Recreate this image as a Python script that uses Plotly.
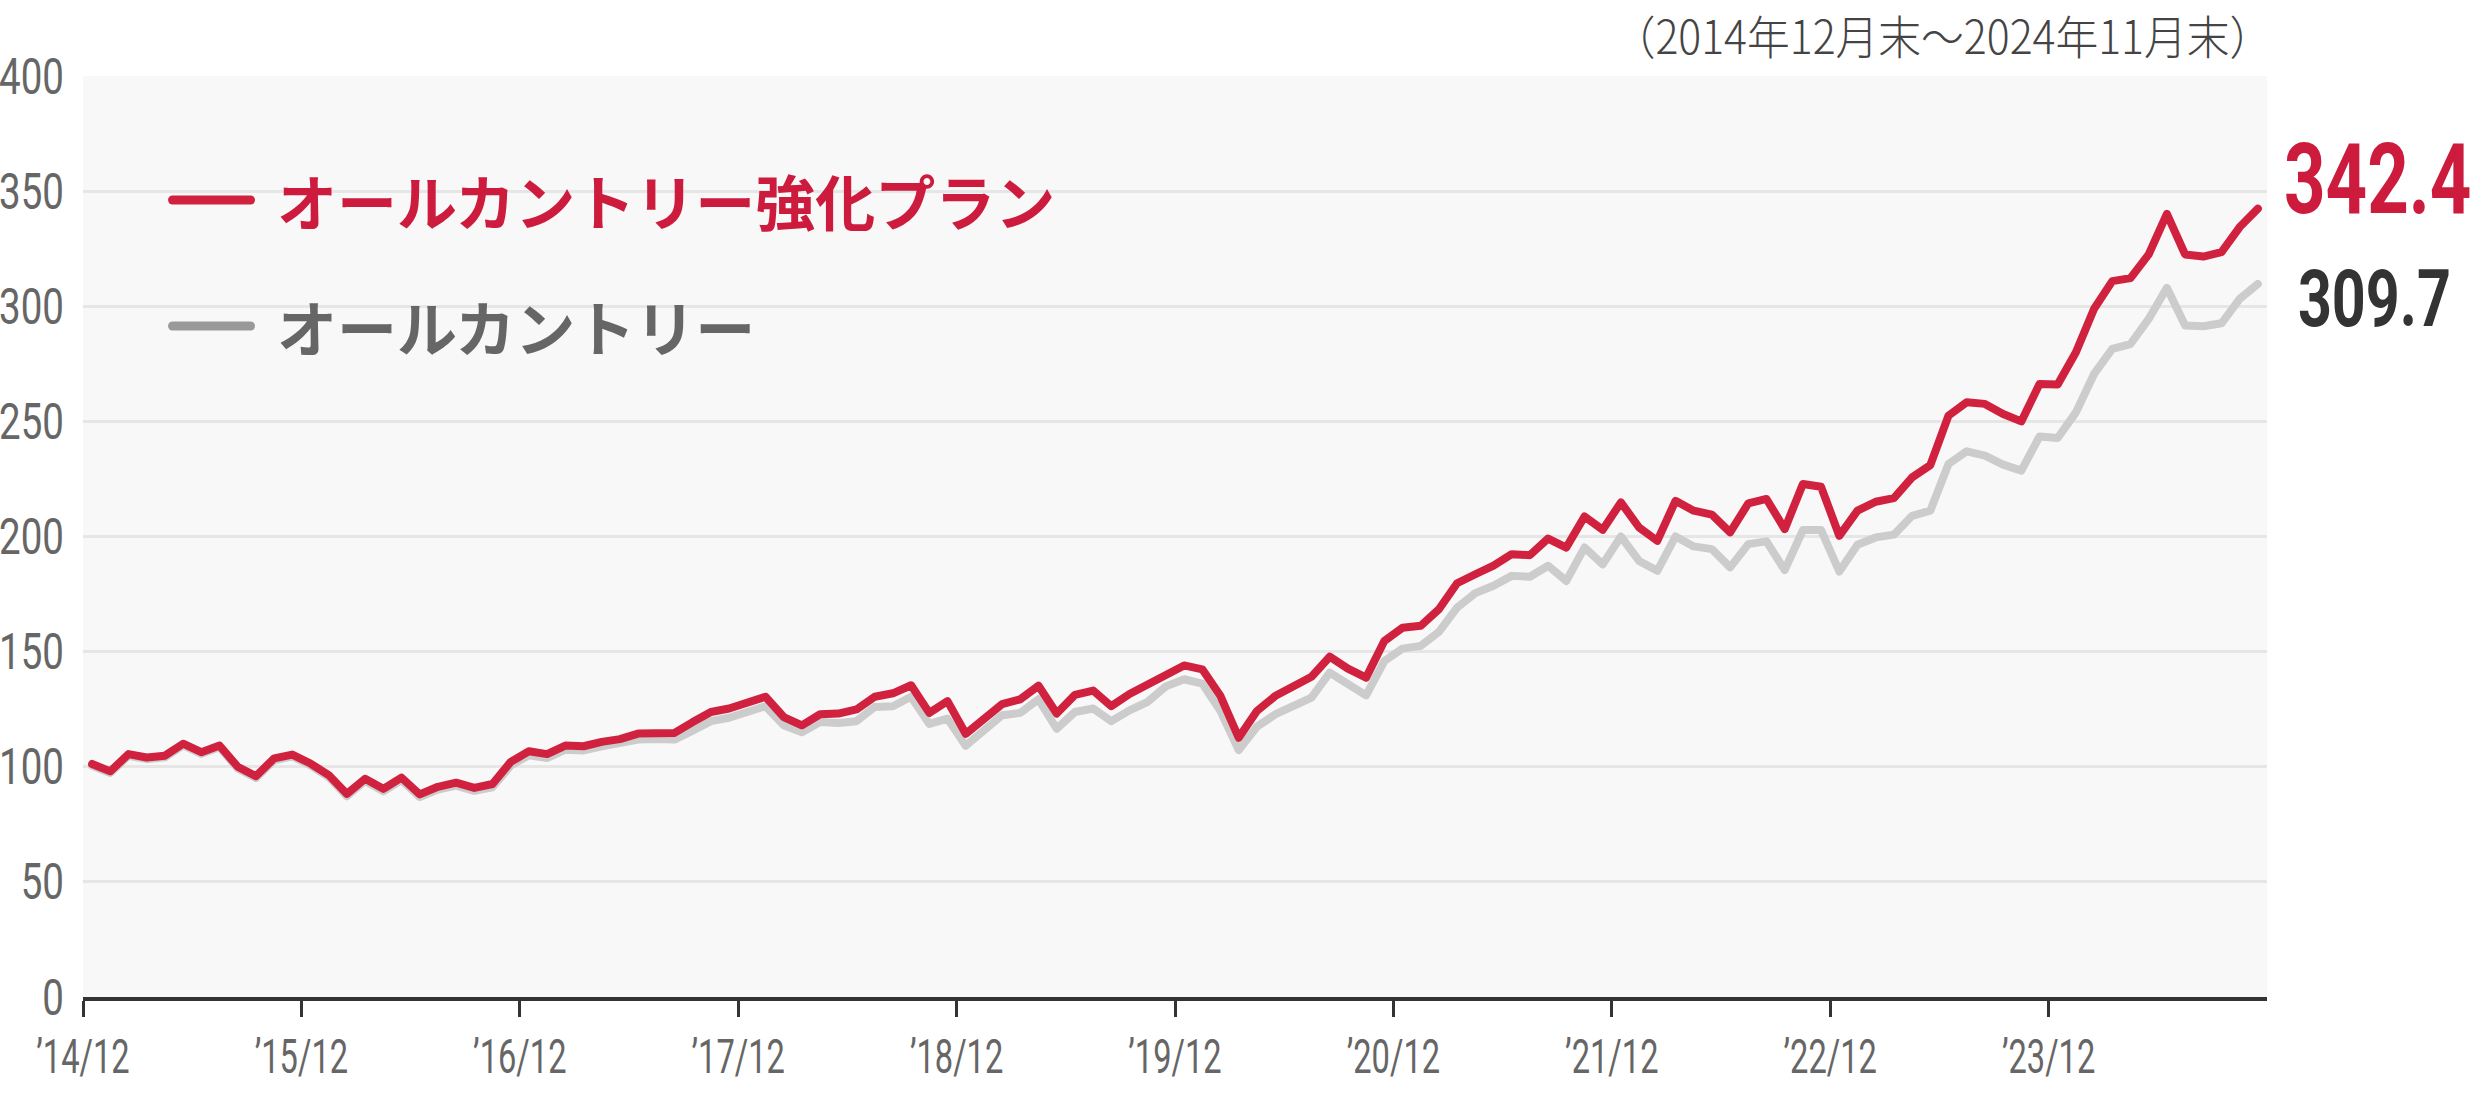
import plotly.graph_objects as go

# Monthly index, Dec 2014 (=0) .. Nov 2024 (=119)
months = list(range(120))

plan_values = [
    101.2, 98.0, 105.5, 104.0, 104.8, 110.0, 106.3, 109.2, 100.0, 95.9,
    103.6, 105.3, 101.4, 96.4, 88.2, 94.8, 90.4, 95.3, 88.0, 91.3,
    93.1, 90.8, 92.5, 102.1, 106.7, 105.5, 109.2, 108.9, 110.8, 112.0,
    114.4, 114.7, 114.7, 119.4, 123.8, 125.3, 127.5, 130.4, 121.6, 118.0,
    122.8, 123.1, 124.9, 130.4, 131.9, 135.4, 123.4, 128.5, 114.3, 121.2,
    127.2, 129.3, 135.2, 123.1, 131.2, 133.1, 126.3, 131.6, 135.6, 140.5,
    144.0, 142.3, 130.7, 112.6, 124.2, 130.7, 135.1, 139.1, 147.8, 142.6,
    138.7, 154.6, 160.4, 161.2, 168.4, 179.7, 183.6, 187.3, 192.3, 191.9,
    199.1, 195.2, 208.7, 202.9, 214.8, 203.9, 198.1, 215.5, 211.2, 209.5,
    201.8, 214.4, 216.3, 203.2, 222.8, 221.6, 200.3, 211.2, 215.1, 216.7,
    225.7, 231.0, 252.5, 258.3, 257.6, 253.2, 250.0, 266.2, 266.0, 280.0,
    298.9, 310.9, 312.2, 322.5, 340.1, 322.5, 321.6, 323.5, 334.4, 342.4,
]

acwi_values = [
    100.4, 97.3, 104.8, 103.3, 104.1, 109.3, 105.6, 108.5, 99.3, 95.1,
    102.8, 104.5, 100.6, 95.5, 87.2, 93.8, 89.3, 94.2, 86.8, 90.1,
    91.8, 89.5, 91.1, 100.5, 105.0, 103.8, 107.4, 107.1, 108.9, 110.0,
    111.8, 112.0, 111.8, 115.7, 119.8, 121.3, 123.4, 126.3, 118.0, 115.0,
    119.4, 119.0, 119.8, 126.0, 126.3, 130.4, 118.6, 120.9, 109.1, 115.7,
    122.4, 123.4, 129.3, 116.5, 123.8, 125.3, 119.8, 124.5, 128.2, 134.9,
    138.0, 136.1, 124.2, 107.2, 117.4, 122.7, 126.4, 130.0, 140.9, 135.8,
    131.0, 145.9, 151.3, 152.5, 158.6, 169.1, 175.4, 178.6, 182.9, 182.5,
    187.3, 180.7, 195.2, 187.9, 200.0, 189.4, 185.1, 200.0, 195.7, 194.5,
    186.6, 196.7, 197.9, 185.4, 202.8, 202.8, 184.8, 196.4, 199.6, 200.8,
    209.0, 211.2, 231.5, 237.0, 235.1, 231.2, 228.6, 243.4, 242.8, 253.9,
    270.6, 281.5, 283.6, 294.5, 308.0, 291.6, 291.3, 292.6, 303.2, 309.7,
]

tick_labels = ["’14/12", "’15/12", "’16/12", "’17/12", "’18/12",
               "’19/12", "’20/12", "’21/12", "’22/12", "’23/12"]
y_ticks = [0, 50, 100, 150, 200, 250, 300, 350, 400]

name_plan = "オールカントリー強化プラン"
name_acwi = "オールカントリー"
period_note = "（2014年12月末～2024年11月末）"

RED = "#d0223f"
RED_TEXT = "#cc1b3d"
GRAY_LINE = "#cccccc"
GRAY_LEGEND = "#999999"
NUM_FONT = "Roboto, sans-serif"
JP_FONT = "Noto Sans CJK JP, Noto Sans, sans-serif"

tick_positions = [i * 12 - 0.5 for i in range(len(tick_labels))]

fig = go.Figure()
fig.add_trace(go.Scatter(x=months, y=acwi_values, mode="lines", name=name_acwi,
                         line=dict(color=GRAY_LINE, width=8), showlegend=False,
                         hoverinfo="skip"))
fig.add_trace(go.Scatter(x=months, y=plan_values, mode="lines", name=name_plan,
                         line=dict(color=RED, width=8), showlegend=False,
                         hoverinfo="skip"))

# Legend (drawn manually)
legend_items = [(name_plan, RED, RED_TEXT, 0.8654), (name_acwi, GRAY_LEGEND, "#666666", 0.7286)]
for label, lcolor, tcolor, ypos in legend_items:
    fig.add_shape(type="line", xref="paper", yref="paper",
                  x0=0.041, x1=0.0767, y0=ypos, y1=ypos,
                  line=dict(color=lcolor, width=9))
    fig.add_annotation(xref="paper", yref="paper", x=0.0878, y=ypos,
                       xanchor="left", yanchor="middle", showarrow=False,
                       text=label,
                       font=dict(family=JP_FONT, size=60, color=tcolor, weight=700))

# End value labels
fig.add_annotation(x=months[-1], y=plan_values[-1], xref="x", yref="y",
                   text=f"{plan_values[-1]:.1f}", showarrow=False,
                   xanchor="center", yanchor="middle", xshift=120, yshift=29,
                   font=dict(family=NUM_FONT, size=98, color=RED_TEXT, weight=700))
fig.add_annotation(x=months[-1], y=acwi_values[-1], xref="x", yref="y",
                   text=f"{acwi_values[-1]:.1f}", showarrow=False,
                   xanchor="center", yanchor="middle", xshift=117, yshift=-15,
                   font=dict(family=NUM_FONT, size=80, color="#333333", weight=700))

# Period note
fig.add_annotation(xref="paper", yref="paper", x=1.0032, y=1.0456,
                   xanchor="right", yanchor="middle", showarrow=False,
                   text=period_note,
                   font=dict(family=JP_FONT, size=46, color="#444444", weight=300))

fig.update_layout(
    template="none",
    width=2490, height=1093,
    margin=dict(l=83, r=223, t=76, b=96),
    paper_bgcolor="#ffffff",
    plot_bgcolor="#f8f8f8",
    showlegend=False,
)
fig.update_xaxes(
    range=[-0.5, 119.5], automargin=False,
    tickmode="array", tickvals=tick_positions, ticktext=tick_labels,
    ticks="outside", ticklen=16, tickwidth=3, tickcolor="#333333",
    showline=True, linecolor="#333333", linewidth=4,
    showgrid=False, zeroline=False,
    tickfont=dict(family=NUM_FONT, size=48, color="#666666"),
    ticklabelstandoff=-2,
)
fig.update_yaxes(
    range=[0, 400], automargin=False,
    tickmode="array", tickvals=y_ticks,
    showgrid=True, gridcolor="#e6e6e6", gridwidth=3,
    zeroline=False, showline=False, ticks="",
    tickfont=dict(family=NUM_FONT, size=50, color="#666666"),
    ticklabelstandoff=18,
)

# Condense numeric text horizontally (the reference uses a condensed typeface),
# keeping each text's anchor point in place.
post_js = """
document.body.style.margin = '0';
document.documentElement.style.margin = '0';
var gd = document.getElementById('{plot_id}');
function squeezeEl(el, f, keep) {
  if (el.dataset.sq) { return; }
  var b0 = el.getBBox();
  var w = el.getComputedTextLength();
  if (!(w > 0)) { return; }
  el.setAttribute('textLength', (w * f).toFixed(2));
  el.setAttribute('lengthAdjust', 'spacingAndGlyphs');
  var b1 = el.getBBox();
  var dx = 0;
  if (keep === 'end') { dx = (b0.x + b0.width) - (b1.x + b1.width); }
  else if (keep === 'middle') { dx = (b0.x + b0.width / 2) - (b1.x + b1.width / 2); }
  else { dx = b0.x - b1.x; }
  var x = parseFloat(el.getAttribute('x') || '0');
  el.setAttribute('x', (x + dx).toFixed(2));
  el.dataset.sq = '1';
  var rect = el.parentNode ? el.parentNode.querySelector('rect.bg') : null;
  if (rect) {
    var nb = el.getBBox();
    rect.setAttribute('x', (nb.x - 2).toFixed(2));
    rect.setAttribute('width', (nb.width + 4).toFixed(2));
  }
}
function squeeze() {
  gd.querySelectorAll('g.ytick text').forEach(function(el){ squeezeEl(el, 0.77, 'end'); });
  gd.querySelectorAll('g.xtick text').forEach(function(el){ squeezeEl(el, 0.68, 'middle'); });
  gd.querySelectorAll('g.annotation text').forEach(function(el){
    var t = el.textContent;
    if (/^[0-9.]+$/.test(t)) { squeezeEl(el, 0.74, 'middle'); }
    else if (t.indexOf('年') >= 0) { squeezeEl(el, 0.93, 'end'); }
  });
  gd.querySelectorAll('.shapelayer path').forEach(function(p){
    p.style.strokeLinecap = 'round';
  });
  gd.querySelectorAll('.scatterlayer path.js-line').forEach(function(p){
    p.style.strokeLinejoin = 'round';
    p.style.strokeLinecap = 'round';
  });
}
squeeze();
gd.on('plotly_afterplot', squeeze);
"""

fig.write_html("out.html", post_script=post_js,
               config={"displayModeBar": False, "staticPlot": True})
